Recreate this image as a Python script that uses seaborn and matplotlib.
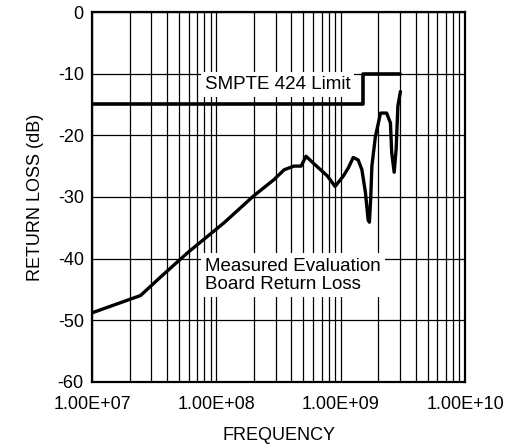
import numpy as np
import pandas as pd
import matplotlib
matplotlib.use("Agg")
import matplotlib.pyplot as plt
import matplotlib.ticker as mticker
import seaborn as sns

# measured evaluation board return loss
freq = [1.0e7, 2.45e7, 3.55e7, 5.9e7, 1.15e8, 2.0e8, 2.9e8, 3.5e8, 4.2e8, 4.8e8,
        5.25e8, 6.0e8, 7.8e8, 9.0e8, 1.05e9, 1.15e9, 1.26e9, 1.38e9, 1.48e9, 1.58e9,
        1.66e9, 1.70e9, 1.74e9, 1.78e9, 1.9e9, 2.09e9, 2.34e9, 2.51e9, 2.57e9, 2.69e9,
        2.79e9, 2.88e9, 3.02e9]
loss = [-48.8, -46.0, -43.0, -39.0, -34.2, -29.8, -27.2, -25.6, -25.0, -25.0,
        -23.4, -24.5, -26.6, -28.3, -26.6, -25.3, -23.6, -24.0, -25.6, -29.3,
        -33.7, -34.1, -30.4, -25.0, -20.2, -16.4, -16.4, -18.0, -22.8, -26.0,
        -22.3, -15.3, -12.9]

# SMPTE 424 limit
limit_freq = [1.0e7, 1.5e9, 1.5e9, 3.0e9]
limit_db = [-15, -15, -10, -10]

x_ticks = [1e7, 1e8, 1e9, 1e10]
x_labels = ["1.00E+07", "1.00E+08", "1.00E+09", "1.00E+10"]
y_ticks = [0, -10, -20, -30, -40, -50, -60]

sns.set_style("white")
plt.rcParams['font.family'] = ['Liberation Sans', 'DejaVu Sans']
plt.rcParams['axes.unicode_minus'] = False
plt.rcParams['text.color'] = "black"
plt.rcParams['axes.labelcolor'] = "black"

df = pd.DataFrame({"freq": freq, "loss": loss})
dfl = pd.DataFrame({"freq": limit_freq, "loss": limit_db})

fig, ax = plt.subplots(figsize=(5.15, 4.45), dpi=100)
fig.subplots_adjust(left=0.179, right=0.903, top=0.973, bottom=0.142)

sns.lineplot(data=df, x="freq", y="loss", sort=False, estimator=None,
             color="black", lw=2.4, ax=ax, zorder=5)
sns.lineplot(data=dfl, x="freq", y="loss", sort=False, estimator=None,
             color="black", lw=2.6, ax=ax, zorder=5)

ax.set_xscale("log")
ax.set_xlim(1e7, 1e10)
ax.set_ylim(-60, 0)
ax.set_xticks(x_ticks)
ax.set_xticklabels(x_labels)
ax.xaxis.set_minor_locator(mticker.LogLocator(base=10, subs=np.arange(2, 10)))
ax.xaxis.set_minor_formatter(mticker.NullFormatter())
ax.set_yticks(y_ticks)
ax.grid(which="both", axis="x", color="black", lw=0.9)
ax.grid(which="major", axis="y", color="black", lw=0.9)
ax.set_axisbelow(True)
ax.tick_params(which="both", length=0, labelsize=13, colors="black")
ax.tick_params(axis="x", pad=10)
ax.tick_params(axis="y", pad=6)
for s in ax.spines.values():
    s.set_color("black")
    s.set_linewidth(1.6)

ax.set_xlabel("FREQUENCY", fontsize=13, labelpad=10)
ax.set_ylabel("RETURN LOSS (dB)", fontsize=13, labelpad=10)

ax.text(3.1e8, -11.8, "SMPTE 424 Limit", fontsize=13.5, ha="center", va="center",
        zorder=3, bbox=dict(facecolor="white", edgecolor="none", pad=3))
ax.text(8.1e7, -42.7, "Measured Evaluation\nBoard Return Loss", fontsize=13.5,
        ha="left", va="center", linespacing=1.1, zorder=3,
        bbox=dict(facecolor="white", edgecolor="none", pad=3))

fig.savefig("out.png", dpi=100)
